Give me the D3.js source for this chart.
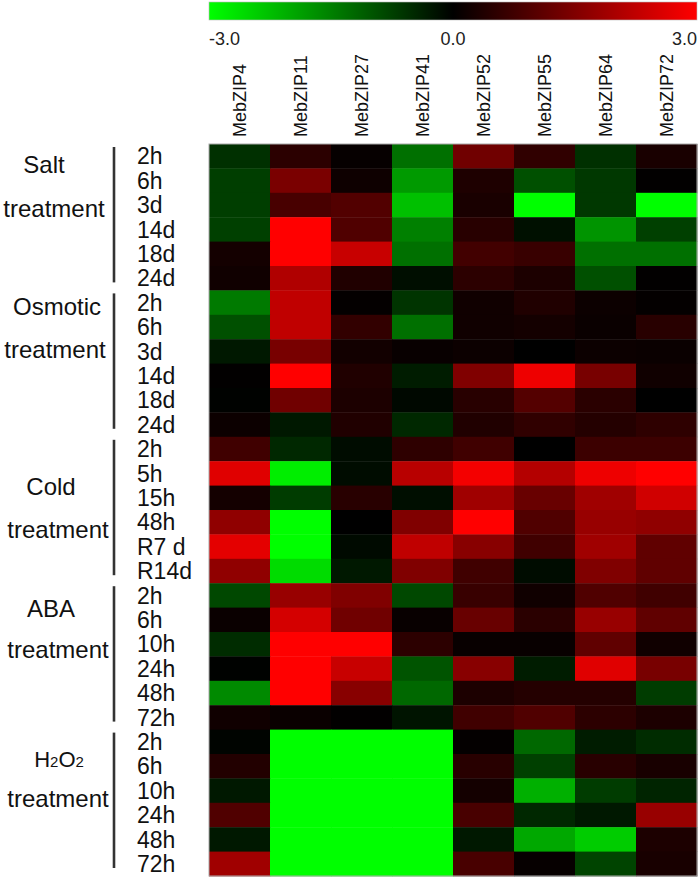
<!DOCTYPE html>
<html>
<head>
<meta charset="utf-8">
<script src="https://cdn.jsdelivr.net/npm/d3@7"></script>
<style>
  html, body { margin: 0; padding: 0; background: #fff; }
  svg { display: block; font-family: "Liberation Sans", Arial, sans-serif; }
</style>
</head>
<body>
<svg id="chart" width="700" height="879"></svg>
<script>
// ---------------- DATA ----------------
const genes = ["MebZIP4", "MebZIP11", "MebZIP27", "MebZIP41", "MebZIP52", "MebZIP55", "MebZIP64", "MebZIP72"];
const treatments = ["Salt", "Osmotic", "Cold", "ABA", "H2O2"];
const saltTimes = ["2h", "6h", "3d", "14d", "18d", "24d"];
const osmoticTimes = ["2h", "6h", "3d", "14d", "18d", "24d"];
const coldTimes = ["2h", "5h", "15h", "48h", "R7 d", "R14d"];
const abaTimes = ["2h", "6h", "10h", "24h", "48h", "72h"];
const h2o2Times = ["2h", "6h", "10h", "24h", "48h", "72h"];
const colorTicks = [-3.0, 0.0, 3.0];

const saltValues = [
  [-0.56, 0.50, 0.07, -1.32, 1.32, 0.56, -0.56, 0.30],
  [-0.73, 1.43, 0.16, -1.81, 0.35, -0.94, -0.66, 0.02],
  [-0.73, 0.85, 0.96, -2.26, 0.30, -3.00, -0.66, -3.00],
  [-0.75, 3.00, 0.94, -1.50, 0.47, -0.19, -1.74, -0.75],
  [0.24, 3.00, 2.35, -1.32, 0.78, 0.66, -1.32, -1.32],
  [0.19, 2.07, 0.38, -0.16, 0.52, 0.33, -0.94, 0.02]
];
const osmoticValues = [
  [-1.44, 2.26, 0.05, -0.61, 0.19, 0.38, 0.14, 0.05],
  [-0.94, 2.26, 0.59, -1.32, 0.19, 0.24, 0.12, 0.47],
  [-0.28, 1.41, 0.21, 0.09, 0.14, 0.00, 0.14, 0.12],
  [0.02, 3.00, 0.38, -0.33, 1.50, 2.80, 1.41, 0.19],
  [-0.02, 1.32, 0.33, -0.09, 0.47, 0.99, 0.49, 0.00],
  [0.14, -0.28, 0.38, -0.47, 0.38, 0.56, 0.42, 0.54]
];
const coldValues = [
  [0.75, -0.47, -0.14, 0.54, 0.75, 0.00, 0.71, 0.71],
  [2.64, -2.80, -0.14, 2.16, 2.87, 2.12, 2.80, 3.00],
  [0.24, -0.71, 0.47, -0.16, 1.88, 1.22, 1.88, 2.45],
  [1.69, -3.00, 0.00, 1.50, 3.00, 0.94, 1.79, 1.69],
  [2.68, -3.00, -0.12, 2.26, 1.60, 0.75, 1.88, 1.13],
  [1.69, -2.59, -0.28, 1.50, 0.75, -0.14, 1.50, 1.13]
];
const abaValues = [
  [-0.85, 1.79, 1.50, -0.85, 0.66, 0.19, 0.94, 0.75],
  [0.12, 2.49, 1.32, 0.09, 1.22, 0.49, 1.79, 1.13],
  [-0.52, 3.00, 3.00, 0.52, 0.09, 0.09, 1.13, 0.19],
  [-0.02, 3.00, 2.35, -0.99, 1.60, -0.33, 2.64, 1.41],
  [-1.62, 3.00, 1.60, -1.22, 0.33, 0.42, 0.42, -0.71],
  [0.19, 0.12, 0.02, -0.24, 0.75, 0.94, 0.52, 0.33]
];
const h2o2Values = [
  [-0.05, -3.00, -3.00, -3.00, 0.05, -1.22, -0.33, -0.52],
  [0.40, -3.00, -3.00, -3.00, 0.47, -0.75, 0.47, 0.28],
  [-0.28, -3.00, -3.00, -3.00, 0.24, -2.07, -0.71, -0.42],
  [0.94, -3.00, -3.00, -3.00, 0.85, -0.47, -0.28, 1.79],
  [-0.28, -3.00, -3.00, -3.00, -0.28, -1.98, -2.40, 0.33],
  [1.88, -3.00, -3.00, -3.00, 0.85, 0.07, -0.80, 0.28]
];

// ---------------- LAYOUT ----------------
const groupTimes = [saltTimes, osmoticTimes, coldTimes, abaTimes, h2o2Times];
const groupValues = [saltValues, osmoticValues, coldValues, abaValues, h2o2Values];
// per-group label placement (layout only): first word x / baseline offset from group centre, second line likewise
const groupLabelLayout = [
  { x1: 44, d1: -44, x2: 54, d2: 0 },
  { x1: 57, d1: -49, x2: 55, d2: -6 },
  { x1: 51, d1: -15, x2: 58, d2: 28 },
  { x1: 51, d1: -39, x2: 58, d2: 2 },
  { x1: 59, d1: -36, x2: 58, d2: 4 }
];

const rows = [];
groupTimes.forEach((times, g) => {
  times.forEach((t, i) => rows.push({ group: g, label: t, values: groupValues[g][i], key: g + "-" + i }));
});

const svg = d3.select("#chart");
const hmLeft = 209, hmRight = 697, hmTop = 144, hmBottom = 876;

const x = d3.scaleBand().domain(genes).range([hmLeft, hmRight]);
const y = d3.scaleBand().domain(rows.map(r => r.key)).range([hmTop, hmBottom]);
const color = d3.scaleLinear().domain([-3, 0, 3]).range(["#00ff00", "#000000", "#ff0000"]).clamp(true);

// ---------------- COLOR BAR ----------------
const defs = svg.append("defs");
const grad = defs.append("linearGradient").attr("id", "cbar").attr("x1", "0%").attr("x2", "100%");
[-3, -1.5, 0, 1.5, 3].forEach(v => {
  grad.append("stop").attr("offset", ((v + 3) / 6 * 100) + "%").attr("stop-color", color(v));
});
const cbScale = d3.scaleLinear().domain([-3, 3]).range([hmLeft, hmRight]);
svg.append("rect")
  .attr("x", hmLeft).attr("y", 2).attr("width", hmRight - hmLeft).attr("height", 18)
  .attr("fill", "url(#cbar)").attr("stroke", "#bbb").attr("stroke-width", 0.6);
svg.selectAll(".cbtick").data(colorTicks).enter().append("text")
  .attr("class", "cbtick")
  .attr("x", d => cbScale(d))
  .attr("y", 45)
  .attr("text-anchor", (d, i) => i === 0 ? "start" : (i === colorTicks.length - 1 ? "end" : "middle"))
  .attr("font-size", 18).attr("fill", "#222")
  .text(d => d.toFixed(1));

// ---------------- COLUMN LABELS ----------------
svg.selectAll(".gene").data(genes).enter().append("text")
  .attr("class", "gene")
  .attr("transform", d => `translate(${x(d) + x.bandwidth() / 2},137) rotate(-90)`)
  .attr("dy", "0.36em")
  .attr("text-anchor", "start")
  .attr("font-size", 18).attr("fill", "#111")
  .text(d => d);

// ---------------- CELLS ----------------
const rowG = svg.selectAll(".row").data(rows).enter().append("g").attr("class", "row");
rowG.selectAll("rect").data(r => r.values.map((v, j) => ({ v, gene: genes[j], key: r.key })))
  .enter().append("rect")
  .attr("x", d => x(d.gene))
  .attr("y", d => y(d.key))
  .attr("width", x.bandwidth() + 0.4)
  .attr("height", y.bandwidth() + 0.4)
  .attr("fill", d => color(d.v));
svg.append("rect")
  .attr("x", hmLeft).attr("y", hmTop).attr("width", hmRight - hmLeft).attr("height", hmBottom - hmTop)
  .attr("fill", "none").attr("stroke", "#aaa").attr("stroke-width", 1);

// ---------------- ROW LABELS ----------------
svg.selectAll(".rlab").data(rows).enter().append("text")
  .attr("class", "rlab")
  .attr("x", 137)
  .attr("y", d => y(d.key) + y.bandwidth() / 2)
  .attr("dy", "0.36em")
  .attr("font-size", 23).attr("fill", "#111")
  .text(d => d.label);

// ---------------- GROUP BRACKETS & LABELS ----------------
treatments.forEach((name, g) => {
  const gRows = rows.filter(r => r.group === g);
  const gTop = y(gRows[0].key);
  const gBot = y(gRows[gRows.length - 1].key) + y.bandwidth();
  const gMid = (gTop + gBot) / 2;
  svg.append("line")
    .attr("x1", 114).attr("x2", 114)
    .attr("y1", gTop + 3).attr("y2", gBot - 8)
    .attr("stroke", "#333").attr("stroke-width", 2.6);
  const L = groupLabelLayout[g];
  const t1 = svg.append("text")
    .attr("x", L.x1).attr("y", gMid + L.d1)
    .attr("text-anchor", "middle").attr("fill", "#111");
  if (name === "H2O2") {
    t1.style("font-size", "22px");
    t1.append("tspan").style("font-size", "22px").text("H");
    t1.append("tspan").style("font-size", "15px").text("2");
    t1.append("tspan").style("font-size", "22px").text("O");
    t1.append("tspan").style("font-size", "15px").text("2");
  } else {
    t1.attr("font-size", 24).text(name);
  }
  svg.append("text")
    .attr("x", L.x2).attr("y", gMid + L.d2)
    .attr("text-anchor", "middle").attr("font-size", 24).attr("fill", "#111")
    .text("treatment");
});
</script>
</body>
</html>
